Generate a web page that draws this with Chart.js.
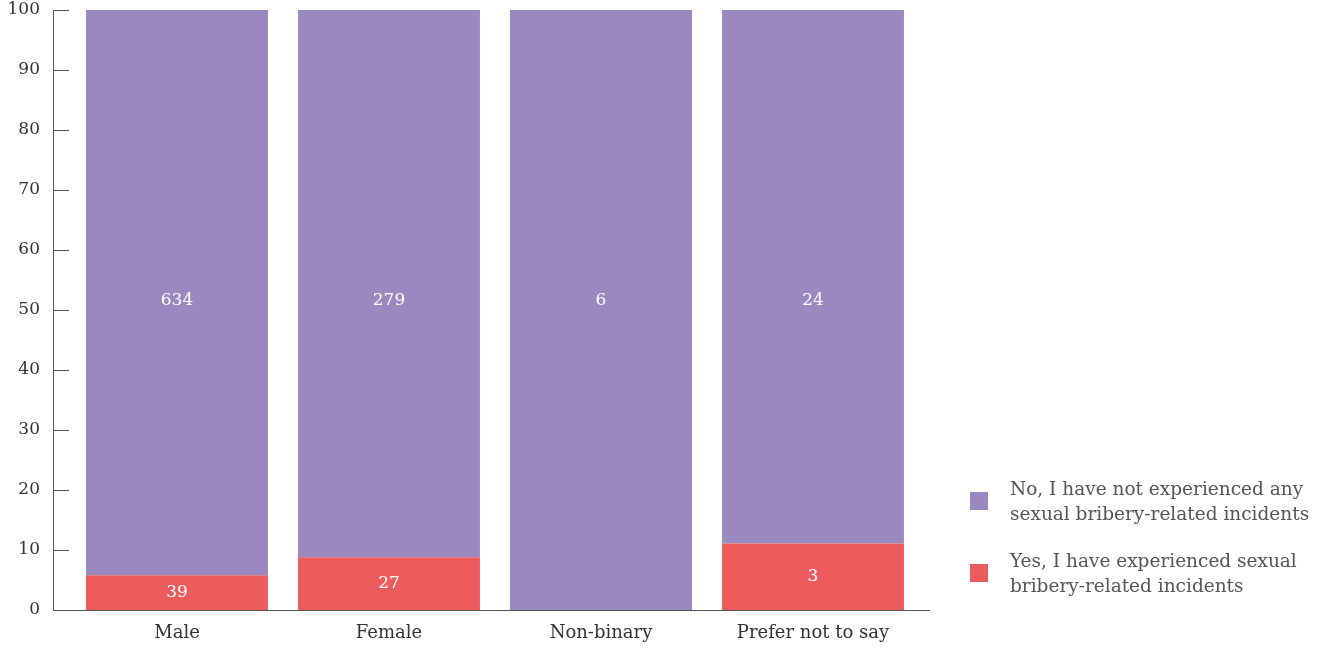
<!DOCTYPE html>
<html><head><meta charset="utf-8">
<script src="https://cdn.jsdelivr.net/npm/chart.js@4"></script>
<style>
html,body{margin:0;padding:0;background:#fff;}
#wrap{position:relative;width:1336px;height:648px;}
#legend{position:absolute;left:970px;top:476px;font-family:"DejaVu Serif",serif;font-size:18.5px;color:#555;line-height:25px;white-space:nowrap;}
.item{display:flex;align-items:center;margin-bottom:22px;}
.box{width:18px;height:18px;margin-right:22px;flex:none;}
</style></head>
<body><div id="wrap"><canvas id="c" width="1336" height="648"></canvas><div id="legend"></div></div>
<script>
const categories = ["Male", "Female", "Non-binary", "Prefer not to say"];
const seriesNames = ["No, I have not experienced any sexual bribery-related incidents", "Yes, I have experienced sexual bribery-related incidents"];
const legendLines = [["No, I have not experienced any", "sexual bribery-related incidents"], ["Yes, I have experienced sexual", "bribery-related incidents"]];
const yesPct = [5.8, 8.8, 0, 11.1];
const noPct = [94.2, 91.2, 100, 88.9];
const yesCounts = [39, 27, 0, 3];
const noCounts = [634, 279, 6, 24];
const yTicks = [0, 10, 20, 30, 40, 50, 60, 70, 80, 90, 100];
const colors = ["#9a88c0", "#ec5c5c"];
const FONT = "DejaVu Serif";

const axisPlugin = {
  id: "axes",
  afterDatasetsDraw(chart) {
    const ctx = chart.ctx, a = chart.chartArea, y = chart.scales.y;
    const ax = a.left - 18;
    ctx.save();
    ctx.strokeStyle = "#555"; ctx.lineWidth = 1;
    ctx.beginPath();
    ctx.moveTo(ax + 0.5, y.getPixelForValue(100));
    ctx.lineTo(ax + 0.5, y.getPixelForValue(0));
    ctx.moveTo(ax, Math.round(y.getPixelForValue(0)) + 0.5);
    ctx.lineTo(a.right + 11, Math.round(y.getPixelForValue(0)) + 0.5);
    yTicks.forEach(v => {
      const py = Math.round(y.getPixelForValue(v)) + 0.5;
      ctx.moveTo(ax, py); ctx.lineTo(ax + 16, py);
    });
    ctx.stroke();
    ctx.fillStyle = "#fff";
    ctx.font = "17px '" + FONT + "'";
    ctx.textAlign = "center"; ctx.textBaseline = "middle";
    const counts = [yesCounts, noCounts];
    chart.data.datasets.forEach((ds, di) => {
      const meta = chart.getDatasetMeta(di);
      meta.data.forEach((bar, i) => {
        const c = counts[di][i];
        if (!c) return;
        const cy = di === 1 ? y.getPixelForValue(51.6) : (bar.y + bar.base) / 2;
        ctx.fillText(String(c), bar.x, cy);
      });
    });
    ctx.restore();
  }
};

const chart = new Chart(document.getElementById("c"), {
  type: "bar",
  data: {
    labels: categories,
    datasets: [
      { label: seriesNames[1], data: yesPct, backgroundColor: colors[1] },
      { label: seriesNames[0], data: noPct, backgroundColor: colors[0] }
    ]
  },
  options: {
    responsive: false, animation: false,
    layout: { padding: { left: 0, top: 10, right: 417, bottom: 0 } },
    plugins: { legend: { display: false }, tooltip: { enabled: false } },
    scales: {
      x: {
        stacked: true,
        grid: { display: false, drawTicks: false }, border: { display: false },
        ticks: { color: "#333", font: { family: FONT, size: 18 }, padding: 13, maxRotation: 0 },
        afterFit: s => { s.height = 38; s.paddingLeft = 0; s.paddingRight = 0; }
      },
      y: {
        stacked: true, min: 0, max: 100,
        grid: { display: false, drawTicks: false }, border: { display: false },
        afterBuildTicks: s => { s.ticks = yTicks.map(v => ({ value: v })); },
        ticks: { color: "#333", font: { family: FONT, size: 17 }, padding: 31 },
        afterFit: s => { s.width = 71; s.paddingTop = 0; s.paddingBottom = 0; }
      }
    },
    datasets: { bar: { categoryPercentage: 1, barPercentage: 0.858 } }
  },
  plugins: [axisPlugin]
});

const lg = document.getElementById("legend");
legendLines.forEach((lines, i) => {
  const it = document.createElement("div"); it.className = "item";
  const b = document.createElement("div"); b.className = "box"; b.style.background = colors[i];
  const t = document.createElement("div"); t.innerHTML = lines.join("<br>");
  it.appendChild(b); it.appendChild(t); lg.appendChild(it);
});
</script></body></html>
